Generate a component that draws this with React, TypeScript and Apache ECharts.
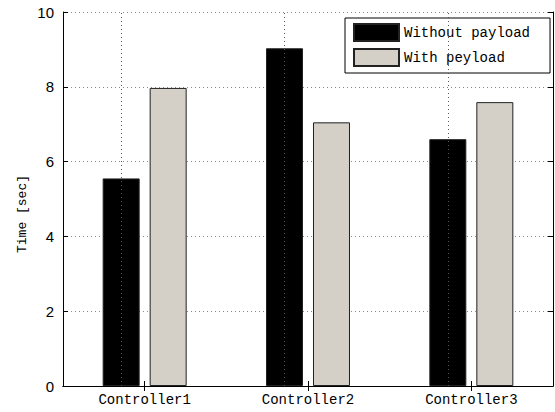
import React, { useEffect, useRef } from "react";
import * as echarts from "echarts";

const categories = ["Controller1", "Controller2", "Controller3"];
const withoutPayload = [5.55, 9.03, 6.6];
const withPayload = [7.97, 7.05, 7.59];
const yTicks = [0, 2, 4, 6, 8, 10];

const MONO = "'Liberation Mono', 'DejaVu Sans Mono', monospace";
const SANS = "'Liberation Sans', Arial, sans-serif";

export default function App() {
  const ref = useRef<HTMLDivElement>(null);

  useEffect(() => {
    if (!ref.current) return;
    const chart = echarts.init(ref.current, undefined, { renderer: "svg" });
    const yMin = yTicks[0];
    const yMax = yTicks[yTicks.length - 1];
    const yStep = yTicks[1] - yTicks[0];

    chart.setOption({
      animation: false,
      backgroundColor: "#ffffff",
      grid: { left: 63, right: 2, top: 12, bottom: 26, containLabel: false },
      legend: {
        orient: "vertical",
        left: 345,
        top: 18,
        padding: [5, 20, 6, 8],
        icon: "rect",
        itemWidth: 45,
        itemHeight: 17,
        itemGap: 6,
        backgroundColor: "#ffffff",
        borderColor: "#000000",
        borderWidth: 1,
        borderRadius: 0,
        textStyle: { fontFamily: MONO, fontSize: 14, color: "#000000" },
        data: ["Without payload", "With peyload"],
      },
      graphic: [
        {
          type: "text",
          x: 22,
          y: 214,
          rotation: Math.PI / 2,
          style: {
            text: "Time [sec]",
            font: `13px ${MONO}`,
            fill: "#000000",
            align: "center",
            verticalAlign: "middle",
          },
        },
      ],
      xAxis: [
        {
          type: "category",
          data: categories,
          position: "bottom",
          axisLine: { show: true, lineStyle: { color: "#000000", width: 1 } },
          axisTick: { show: true, inside: true, alignWithLabel: true, length: 5, lineStyle: { color: "#000000" } },
          axisLabel: { color: "#000000", fontFamily: MONO, fontSize: 14, margin: 7 },
          splitLine: { show: false },
        },
        {
          type: "category",
          data: categories,
          position: "top",
          axisLine: { show: true, lineStyle: { color: "#000000", width: 1 } },
          axisTick: { show: true, inside: true, alignWithLabel: true, length: 5, lineStyle: { color: "#000000" } },
          axisLabel: { show: false },
          splitLine: { show: false },
        },
      ],
      yAxis: [
        {
          type: "value",
          min: yMin,
          max: yMax,
          interval: yStep,
          position: "left",
          axisLine: { show: true, lineStyle: { color: "#000000", width: 1 } },
          axisTick: { show: true, inside: true, length: 5, lineStyle: { color: "#000000" } },
          axisLabel: { color: "#000000", fontFamily: SANS, fontSize: 15, margin: 9 },
          splitLine: { show: true, lineStyle: { color: "#8a8a8a", width: 1, type: [1, 3] } },
        },
        {
          type: "value",
          min: yMin,
          max: yMax,
          interval: yStep,
          position: "right",
          axisLine: { show: true, lineStyle: { color: "#000000", width: 1 } },
          axisTick: { show: true, inside: true, length: 5, lineStyle: { color: "#000000" } },
          axisLabel: { show: false },
          splitLine: { show: false },
        },
      ],
      series: [
        {
          name: "Without payload",
          type: "bar",
          xAxisIndex: 0,
          yAxisIndex: 0,
          data: withoutPayload,
          barWidth: 37,
          barGap: "27%",
          itemStyle: { color: "#000000", borderColor: "#222222", borderWidth: 1 },
          markLine: {
            silent: true,
            symbol: "none",
            label: { show: false },
            lineStyle: { color: "#555555", width: 1, type: [1, 3] },
            data: categories.map((c) => ({ xAxis: c })),
          },
        },
        {
          name: "With peyload",
          type: "bar",
          xAxisIndex: 0,
          yAxisIndex: 0,
          data: withPayload,
          barWidth: 37,
          barGap: "27%",
          itemStyle: { color: "#d4d0c8", borderColor: "#222222", borderWidth: 1 },
        },
      ],
    });

    return () => chart.dispose();
  }, []);

  return (
    <div
      ref={ref}
      style={{ position: "fixed", left: 0, top: 0, width: 555, height: 412, background: "#ffffff" }}
    />
  );
}
